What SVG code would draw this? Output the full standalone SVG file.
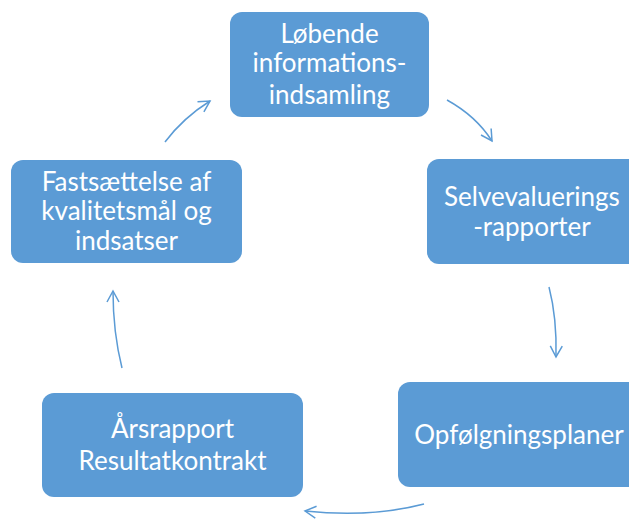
<svg xmlns="http://www.w3.org/2000/svg" width="629" height="519" viewBox="0 0 629 519">
<style>
.box{fill:#5B9BD5;}
.t{font-family:Lato,"Open Sans","Liberation Sans",sans-serif;font-size:26px;fill:#ffffff;text-anchor:middle;}
.c{fill:none;stroke:#5B9BD5;stroke-width:1.5;}
</style>
<defs>
<marker id="ah" markerWidth="14" markerHeight="14" refX="12" refY="7" orient="auto" markerUnits="userSpaceOnUse">
<path d="M1,1 L12,7 L1,13" fill="none" stroke="#5B9BD5" stroke-width="1.5"/>
</marker>
</defs>
<g id="n1"><rect class="box" x="230" y="12" width="199" height="105" rx="12"/>
<text class="t" x="329.5" y="43">Løbende</text><text class="t" x="329.5" y="72">informations-</text><text class="t" x="329.5" y="104">indsamling</text></g>
<g id="n2"><rect class="box" x="427" y="159" width="215" height="105" rx="12"/>
<text class="t" x="532" y="206">Selvevaluerings</text><text class="t" x="532" y="236">-rapporter</text></g>
<g id="n3"><rect class="box" x="398" y="382" width="244" height="105" rx="12"/>
<text class="t" x="519" y="444">Opfølgningsplaner</text></g>
<g id="n4"><rect class="box" x="42" y="393" width="261" height="104" rx="12"/>
<text class="t" x="172.5" y="438">Årsrapport</text><text class="t" x="172.5" y="470">Resultatkontrakt</text></g>
<g id="n5"><rect class="box" x="11" y="160" width="231" height="103" rx="12"/>
<text class="t" x="126.5" y="191">Fastsættelse af</text><text class="t" x="126.5" y="220">kvalitetsmål og</text><text class="t" x="126.5" y="250">indsatser</text></g>
<g id="connectors">
<path class="c" d="M165,142 Q183,118 210,101" marker-end="url(#ah)"/>
<path class="c" d="M447,100 Q476,116 492,141" marker-end="url(#ah)"/>
<path class="c" d="M549,287 Q557,318 556,357" marker-end="url(#ah)"/>
<path class="c" d="M424,504 Q370,518 305,511" marker-end="url(#ah)"/>
<path class="c" d="M122,368 Q113,332 113,291" marker-end="url(#ah)"/>
</g>
</svg>
